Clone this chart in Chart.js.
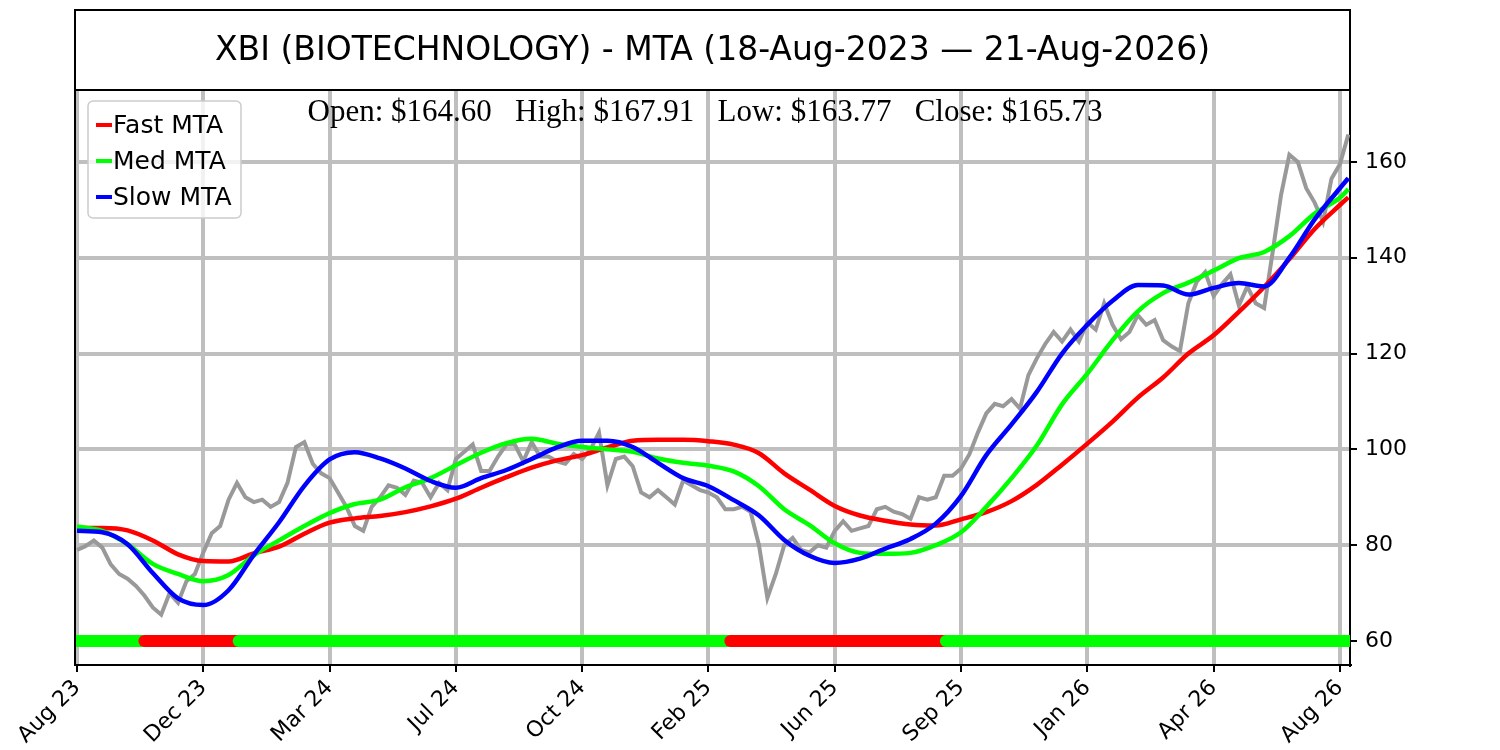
<!DOCTYPE html>
<html>
<head>
<meta charset="utf-8">
<script src="https://cdn.jsdelivr.net/npm/chart.js@4.4.1/dist/chart.umd.min.js"></script>
<style>
  body { margin: 0; background: #fff; }
</style>
</head>
<body>
<canvas id="mta-chart" width="1500" height="750"></canvas>
<script>
const titleText = "XBI (BIOTECHNOLOGY) - MTA (18-Aug-2023 \u2014 21-Aug-2026)";

// x axis is a bar index (trading days), ticks every 75 bars
const tickBars = [0, 75, 150, 225, 300, 375, 450, 525, 600, 675, 750];
const tickLabels = ["Aug 23", "Dec 23", "Mar 24", "Jul 24", "Oct 24", "Feb 25", "Jun 25", "Sep 25", "Jan 26", "Apr 26", "Aug 26"];
const yTicks = [60, 80, 100, 120, 140, 160];

// price, one value every 5 bars
const priceStep = 5;
const priceClose = [
  79.0, 79.8, 81.0, 79.5, 76.0, 74.0, 73.0, 71.5, 69.5, 67.0,
  65.5, 70.0, 68.0, 72.5, 74.0, 78.5, 82.5, 84.0, 89.5, 93.0,
  90.0, 89.0, 89.5, 88.0, 89.0, 93.0, 100.5, 101.5, 97.0, 95.0,
  94.0, 91.0, 88.0, 84.0, 83.0, 88.0, 90.0, 92.5, 92.0, 90.5,
  93.5, 93.0, 90.0, 93.0, 91.5, 98.0, 99.5, 101.0, 95.5, 95.5,
  98.5, 101.0, 101.0, 97.5, 101.5, 98.5, 98.5, 97.5, 97.0, 99.0,
  98.0, 100.0, 103.5, 92.5, 98.0, 98.5, 96.5, 91.0, 90.0, 91.5,
  90.0, 88.5, 93.5, 92.5, 91.5, 91.0, 90.0, 87.5, 87.5, 88.0,
  87.0, 80.0, 69.0, 74.0, 80.0, 81.5, 79.0, 78.5, 80.0, 79.5,
  83.0, 85.0, 83.0, 83.5, 84.0, 87.5, 88.0, 87.0, 86.5, 85.5,
  90.0, 89.5, 90.0, 94.5, 94.5, 96.0, 99.0, 103.5, 107.5, 109.5,
  109.0, 110.5, 108.5, 115.5, 119.0, 122.0, 124.5, 122.5, 125.0, 122.5,
  126.5, 125.0, 130.5, 126.0, 123.0, 124.5, 128.0, 126.0, 127.0, 122.8,
  121.5, 120.5, 130.5, 135.0, 137.0, 132.0, 134.5, 136.5, 130.0, 134.0,
  130.5, 129.5, 141.0, 153.0, 161.5, 160.0, 154.5, 151.5, 147.5, 156.5,
  159.5, 165.7
];

// MTA lines, sampled at these bars
const mtaBars = [0, 15, 30, 45, 60, 75, 90, 105, 120, 135, 150, 165, 180, 195, 210, 225, 240, 255, 270, 285,
  300, 315, 330, 345, 360, 375, 390, 405, 420, 435, 450, 465, 480, 495, 510, 525, 540, 555, 570, 585,
  600, 615, 630, 645, 660, 675, 690, 705, 720, 735, 750, 755];
const fastMta = [83.6, 83.6, 83.1, 81.0, 78.1, 76.7, 76.6, 78.3, 79.7, 82.4,
  84.7, 85.6, 86.1, 86.9, 88.1, 89.7, 92.0, 94.2, 96.2, 97.7,
  98.8, 100.4, 101.8, 102.0, 102.0, 101.7, 101.0, 99.2, 95.0, 91.6,
  88.2, 86.2, 85.1, 84.3, 84.1, 85.4, 86.9, 89.2, 92.6, 96.8,
  101.2, 105.8, 110.8, 115.0, 120.0, 123.8, 128.7, 133.9, 139.7, 146.0,
  151.0, 152.6];
const medMta = [83.9, 83.0, 80.2, 76.1, 74.0, 72.5, 73.8, 77.9, 81.0, 84.0,
  86.7, 88.6, 89.5, 92.1, 94.0, 96.7, 99.3, 101.3, 102.2, 101.2,
  100.5, 100.0, 99.5, 98.1, 97.2, 96.6, 95.4, 92.3, 87.5, 84.2,
  80.4, 78.4, 78.2, 78.4, 80.0, 82.7, 88.0, 94.0, 100.8, 109.4,
  115.8, 122.8, 128.8, 132.6, 134.8, 137.3, 139.9, 141.2, 144.5, 149.2,
  152.5, 154.3];
const slowMta = [83.0, 82.7, 80.2, 74.2, 68.9, 67.5, 70.6, 78.0, 84.8, 92.4,
  97.9, 99.4, 98.1, 96.0, 93.4, 92.0, 94.0, 95.7, 98.0, 100.4,
  101.8, 101.8, 100.5, 97.2, 94.0, 92.3, 89.4, 86.2, 81.1, 77.8,
  76.3, 77.2, 79.3, 81.3, 84.5, 90.3, 98.8, 105.2, 112.0, 120.0,
  126.0, 131.0, 134.3, 134.2, 132.3, 133.7, 134.7, 134.0, 140.0, 148.0,
  154.5, 156.6];

// trend signal strip at 60: segment start bars and state
const signalStarts = [0, 40, 96, 388, 516];
const signalUp = [true, false, true, false, true];
const lastBar = 756;
const signalLevel = 60;

const ohlcNames = ["Open", "High", "Low", "Close"];
const ohlcValues = [164.60, 167.91, 163.77, 165.73];

const legendItems = [
  { label: "Fast MTA", color: "#ff0000" },
  { label: "Med MTA", color: "#00ff00" },
  { label: "Slow MTA", color: "#0000ff" }
];

Chart.defaults.font.family = "DejaVu Sans";
Chart.defaults.color = "#000";

const toPoints = (bars, vals) => vals.map((v, i) => ({ x: bars[i], y: v }));
const priceBars = priceClose.map((v, i) => i * priceStep);

const signalSets = signalStarts.map((s, i) => ({
  label: "signal",
  data: [{ x: s, y: signalLevel }, { x: i + 1 < signalStarts.length ? signalStarts[i + 1] : lastBar, y: signalLevel }],
  borderColor: signalUp[i] ? "#00ff00" : "#ff0000",
  borderWidth: 12,
  borderCapStyle: "round",
  pointRadius: 0,
  clip: 0,
  order: 20 - i
}));

const overlay = {
  id: "overlay",
  beforeDraw(chart) {
    const ctx = chart.ctx;
    ctx.save();
    ctx.fillStyle = "#fff";
    ctx.fillRect(0, 0, chart.width, chart.height);
    ctx.restore();
  },
  afterDraw(chart) {
    const { ctx, chartArea: a } = chart;
    ctx.save();
    // title box
    ctx.strokeStyle = "#000";
    ctx.lineWidth = 2;
    ctx.strokeRect(a.left, 10, a.right - a.left, a.top - 10);
    ctx.fillStyle = "#000";
    ctx.font = '33px "DejaVu Sans"';
    ctx.textAlign = "center";
    ctx.textBaseline = "middle";
    ctx.fillText(titleText, (a.left + a.right) / 2, (10 + a.top) / 2 + 1);
    // left spine
    ctx.beginPath();
    ctx.moveTo(a.left, a.top);
    ctx.lineTo(a.left, a.bottom);
    ctx.stroke();

    // last bar prices
    ctx.font = '31px "Liberation Serif"';
    const sub = ohlcNames.map((n, i) => n + ": $" + ohlcValues[i].toFixed(2)).join("   ");
    ctx.fillText(sub, 705, a.top + 23);

    // legend
    const lx = 88, ly = 101, lw = 153, lh = 117;
    ctx.beginPath();
    ctx.roundRect(lx, ly, lw, lh, 5);
    ctx.fillStyle = "rgba(255,255,255,0.8)";
    ctx.fill();
    ctx.strokeStyle = "#cccccc";
    ctx.lineWidth = 1.5;
    ctx.stroke();
    ctx.font = '25px "DejaVu Sans"';
    ctx.textAlign = "left";
    legendItems.forEach((it, i) => {
      const y = ly + 24 + i * 36;
      ctx.strokeStyle = it.color;
      ctx.lineWidth = 4;
      ctx.beginPath();
      ctx.moveTo(lx + 8, y);
      ctx.lineTo(lx + 24, y);
      ctx.stroke();
      ctx.fillStyle = "#000";
      ctx.fillText(it.label, lx + 25, y + 1);
    });
    ctx.restore();
  }
};

new Chart(document.getElementById("mta-chart"), {
  type: "line",
  data: {
    datasets: [
      ...signalSets,
      { label: "Slow MTA", data: toPoints(mtaBars, slowMta), borderColor: "#0000ff", borderWidth: 4.5, pointRadius: 0, cubicInterpolationMode: "monotone", order: 30 },
      { label: "Med MTA", data: toPoints(mtaBars, medMta), borderColor: "#00ff00", borderWidth: 4.5, pointRadius: 0, cubicInterpolationMode: "monotone", order: 40 },
      { label: "Fast MTA", data: toPoints(mtaBars, fastMta), borderColor: "#ff0000", borderWidth: 4.5, pointRadius: 0, cubicInterpolationMode: "monotone", order: 50 },
      { label: "Price", data: toPoints(priceBars, priceClose), borderColor: "#999999", borderWidth: 4, pointRadius: 0, tension: 0, order: 100 }
    ]
  },
  options: {
    responsive: false,
    animation: false,
    devicePixelRatio: 1,
    layout: { padding: { left: 75, top: 90, right: 0, bottom: 0 } },
    plugins: {
      legend: { display: false },
      tooltip: { enabled: false }
    },
    scales: {
      x: {
        type: "linear",
        min: -1.2,
        max: lastBar,
        afterBuildTicks: s => { s.ticks = tickBars.map(v => ({ value: v })); },
        afterFit: s => { s.height = 85; },
        grid: { color: "#bfbfbf", lineWidth: 4, tickColor: "#000", tickLength: 7, tickWidth: 2 },
        border: { color: "#000", width: 2 },
        ticks: {
          autoSkip: false,
          minRotation: 45,
          maxRotation: 45,
          padding: 3,
          font: { size: 22 },
          callback: (v, i) => tickLabels[i]
        }
      },
      y: {
        position: "right",
        min: 55,
        max: 175,
        afterBuildTicks: s => { s.ticks = yTicks.map(v => ({ value: v })); },
        afterFit: s => { s.width = 150; },
        grid: { color: "#bfbfbf", lineWidth: 4, tickColor: "#000", tickLength: 7, tickWidth: 2 },
        border: { color: "#000", width: 2 },
        ticks: { padding: 8, font: { size: 22 } }
      }
    }
  },
  plugins: [overlay]
});
</script>
</body>
</html>
